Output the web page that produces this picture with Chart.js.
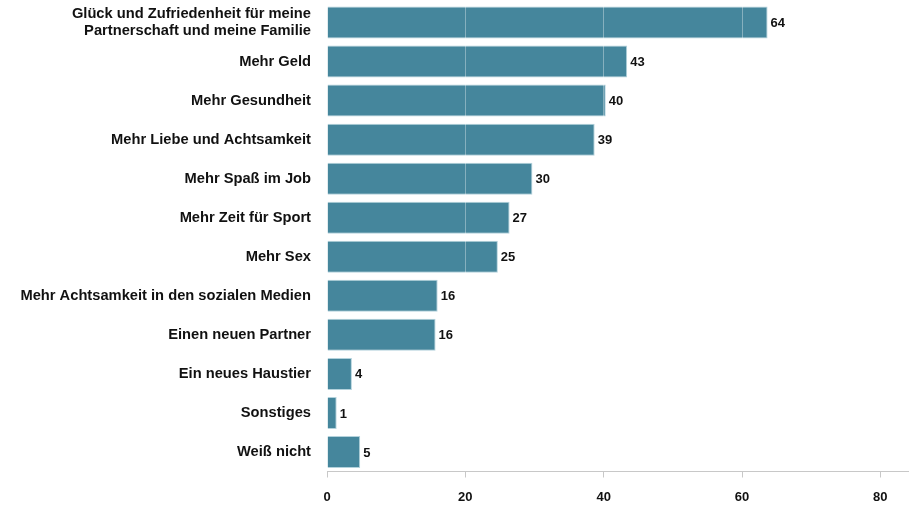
<!DOCTYPE html>
<html><head><meta charset="utf-8">
<script src="https://cdn.jsdelivr.net/npm/chart.js@4/dist/chart.umd.min.js"></script>
<style>html,body{margin:0;padding:0;background:#fff}#wrap{width:911px;height:506px}</style>
</head><body><div id="wrap"><canvas id="c"></canvas></div>
<script>
const categories = [
  ["Glück und Zufriedenheit für meine","Partnerschaft und meine Familie"],
  "Mehr Geld","Mehr Gesundheit","Mehr Liebe und Achtsamkeit","Mehr Spaß im Job",
  "Mehr Zeit für Sport","Mehr Sex","Mehr Achtsamkeit in den sozialen Medien",
  "Einen neuen Partner","Ein neues Haustier","Sonstiges","Weiß nicht"
];
const values = [63.7, 43.4, 40.3, 38.7, 29.7, 26.4, 24.7, 16.0, 15.7, 3.6, 1.4, 4.8];
const valueLabels = ["64","43","40","39","30","27","25","16","16","4","1","5"];
const xTicks = [0, 20, 40, 60, 80];

const valueLabelPlugin = {
  id: 'valueLabels',
  afterDraw(chart) {
    const ctx = chart.ctx;
    const meta = chart.getDatasetMeta(0);
    ctx.save();
    ctx.font = 'bold 13px "Liberation Sans", Arial, sans-serif';
    ctx.fillStyle = '#111';
    ctx.textBaseline = 'middle';
    ctx.textAlign = 'left';
    meta.data.forEach((bar, i) => {
      ctx.fillText(valueLabels[i], bar.x + 3, bar.y + 1);
    });
    ctx.restore();
  }
};

new Chart(document.getElementById('c'), {
  type: 'bar',
  data: {
    labels: categories,
    datasets: [{
      data: values,
      backgroundColor: '#45869c',
      borderColor: '#b3d2dc',
      borderWidth: 1,
      barPercentage: 0.82,
      categoryPercentage: 1.0
    }]
  },
  options: {
    indexAxis: 'y',
    responsive: true,
    maintainAspectRatio: false,
    animation: false,
    layout: { padding: { top: 3, right: 3, bottom: 0, left: 0 } },
    plugins: { legend: { display: false }, tooltip: { enabled: false } },
    scales: {
      x: {
        min: 0, max: 84,
        afterBuildTicks: (s) => { s.ticks = xTicks.map(v => ({ value: v })); },
        afterFit: (s) => { s.paddingLeft = 0; s.paddingRight = 0; s.height = 34.5; },
        grid: { color: 'rgba(255,255,255,0.35)', z: 1, drawTicks: true, tickLength: 6, tickColor: '#c8c8c8' },
        border: { display: true, color: '#c8c8c8', z: 1 },
        ticks: { color: '#111', font: { family: '"Liberation Sans", Arial, sans-serif', size: 13, weight: 'bold' }, padding: 12 }
      },
      y: {
        afterFit: (s) => { s.width = 327; s.paddingTop = 0; s.paddingBottom = 0; },
        grid: { display: false, drawTicks: false },
        border: { display: false },
        ticks: { color: '#111', font: { family: '"Liberation Sans", Arial, sans-serif', size: 14.7, weight: 'bold', lineHeight: 1.1 }, padding: 16 }
      }
    }
  },
  plugins: [valueLabelPlugin]
});
</script></body></html>
